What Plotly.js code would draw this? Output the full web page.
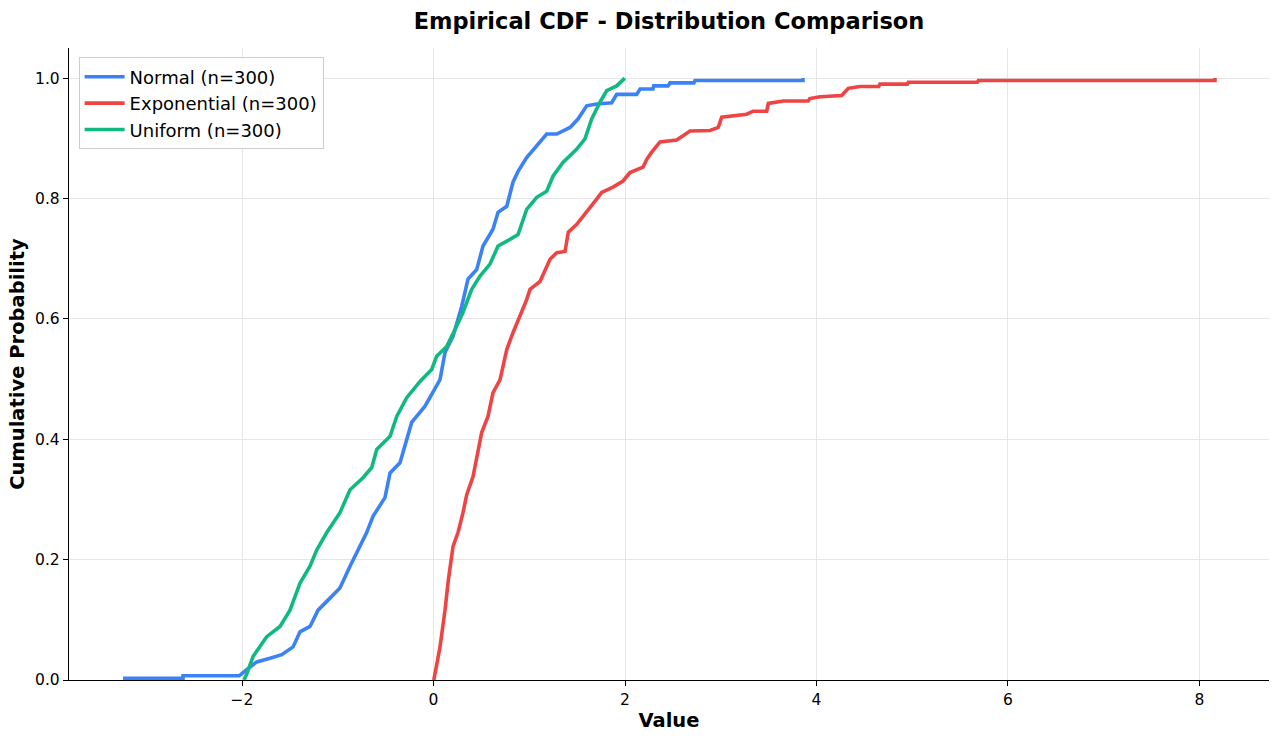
<!DOCTYPE html>
<html>
<head>
<meta charset="utf-8">
<script src="https://cdn.plot.ly/plotly-3.0.1.min.js"></script>
<style>html,body{margin:0;padding:0;background:#fff;}#chart{width:1280px;height:740px;}</style>
</head>
<body>
<div id="chart"></div>
<script>
// Vertices of each empirical CDF
const normalX = [-3.243,-2.616,-2.616,-2.030,-1.951,-1.846,-1.708,-1.585,-1.467,-1.394,-1.290,-1.206,-1.081,-0.977,-0.872,-0.768,-0.698,-0.632,-0.507,-0.454,-0.350,-0.228,-0.089,0.068,0.120,0.204,0.295,0.360,0.451,0.517,0.621,0.674,0.765,0.830,0.883,0.973,1.078,1.182,1.287,1.426,1.509,1.600,1.704,1.861,1.913,2.122,2.157,2.292,2.300,2.450,2.470,2.720,2.731,3.859,3.859];
const normalY = [0.003,0.003,0.007,0.007,0.017,0.030,0.036,0.042,0.055,0.080,0.089,0.116,0.136,0.153,0.189,0.222,0.245,0.272,0.303,0.344,0.361,0.428,0.455,0.499,0.544,0.571,0.621,0.666,0.682,0.721,0.749,0.777,0.787,0.827,0.845,0.868,0.887,0.907,0.907,0.918,0.932,0.954,0.957,0.959,0.973,0.973,0.982,0.982,0.987,0.987,0.992,0.992,0.996,0.996,1.000];

const expX = [0.003,0.068,0.120,0.155,0.204,0.256,0.308,0.347,0.413,0.465,0.503,0.569,0.621,0.695,0.765,0.830,0.903,0.973,1.008,1.112,1.217,1.287,1.373,1.408,1.496,1.600,1.704,1.757,1.875,1.979,2.052,2.188,2.227,2.279,2.366,2.540,2.679,2.888,2.974,3.010,3.271,3.337,3.480,3.497,3.653,3.914,3.930,4.037,4.263,4.332,4.454,4.650,4.663,4.950,4.959,5.680,5.690,8.162,8.162];
const expY = [0.000,0.055,0.116,0.166,0.222,0.245,0.278,0.308,0.338,0.378,0.411,0.438,0.477,0.499,0.549,0.577,0.604,0.632,0.649,0.662,0.699,0.710,0.712,0.744,0.757,0.777,0.799,0.810,0.819,0.829,0.843,0.852,0.865,0.877,0.894,0.897,0.912,0.913,0.918,0.935,0.940,0.945,0.945,0.958,0.962,0.962,0.966,0.969,0.971,0.983,0.986,0.986,0.990,0.990,0.993,0.993,0.996,0.996,1.000];

const unifX = [-1.979,-1.951,-1.885,-1.742,-1.603,-1.499,-1.394,-1.290,-1.220,-1.115,-0.977,-0.872,-0.736,-0.645,-0.593,-0.454,-0.384,-0.280,-0.141,-0.019,0.033,0.138,0.242,0.308,0.399,0.486,0.590,0.674,0.799,0.883,0.973,1.078,1.182,1.248,1.352,1.496,1.582,1.652,1.739,1.809,1.913,1.998];
const unifY = [0.000,0.010,0.039,0.072,0.089,0.116,0.161,0.189,0.216,0.245,0.278,0.316,0.336,0.353,0.383,0.405,0.438,0.469,0.496,0.516,0.538,0.554,0.588,0.611,0.649,0.671,0.691,0.721,0.732,0.740,0.782,0.802,0.812,0.837,0.860,0.882,0.899,0.932,0.960,0.979,0.987,1.000];

const seriesNames = ['Normal (n=300)','Exponential (n=300)','Uniform (n=300)'];
const seriesColors = ['#3b82f6','#ef4444','#10b981'];
const xTicks = [-2,0,2,4,6,8];
const yTicks = [0,0.2,0.4,0.6,0.8,1.0];

const font = 'DejaVu Sans, Arial, sans-serif';
function trace(x,y,i){
  return {x:x,y:y,name:seriesNames[i],type:'scatter',mode:'lines',
    line:{color:seriesColors[i],width:3.6,shape:'linear'},hoverinfo:'x+y'};
}
const data = [trace(normalX,normalY,0),trace(expX,expY,1),trace(unifX,unifY,2)];

const layout = {
  width:1280,height:740,
  paper_bgcolor:'#fff',plot_bgcolor:'#fff',
  margin:{l:69,r:11,t:48,b:60},
  font:{family:font,color:'#000',size:15},
  title:{text:'<b>Empirical CDF - Distribution Comparison</b>',xref:'paper',x:0.5,xanchor:'center',y:0.972,yanchor:'middle',font:{family:font,size:22.5,color:'#000'}},
  xaxis:{range:[-3.807,8.726],tickvals:xTicks,ticktext:xTicks.map(v=>v<0?'\u2212'+Math.abs(v):String(v)),
    showgrid:true,gridcolor:'#e6e6e6',gridwidth:1,zeroline:false,
    showline:true,linecolor:'#000',linewidth:1.2,mirror:false,ticks:'outside',ticklen:5,tickcolor:'#000',
    tickfont:{family:font,size:15.5,color:'#000'},
    title:{text:'<b>Value</b>',font:{family:font,size:19.5,color:'#000'},standoff:5}},
  yaxis:{range:[0,1.05],tickvals:yTicks,ticktext:yTicks.map(v=>v.toFixed(1)),
    showgrid:true,gridcolor:'#e6e6e6',gridwidth:1,zeroline:false,
    showline:true,linecolor:'#000',linewidth:1.2,mirror:false,ticks:'outside',ticklen:5,tickcolor:'#000',
    tickfont:{family:font,size:15.5,color:'#000'},
    title:{text:'<b>Cumulative Probability</b>',font:{family:font,size:19.5,color:'#000'},standoff:5}},
  showlegend:true,
  legend:{x:0.008,y:0.985,xanchor:'left',yanchor:'top',bgcolor:'rgba(255,255,255,0.9)',
    bordercolor:'#cccccc',borderwidth:1,font:{family:font,size:18,color:'#000'},tracegroupgap:0,itemwidth:40}
};
Plotly.newPlot('chart',data,layout,{displayModeBar:false,staticPlot:true});
</script>
</body>
</html>
